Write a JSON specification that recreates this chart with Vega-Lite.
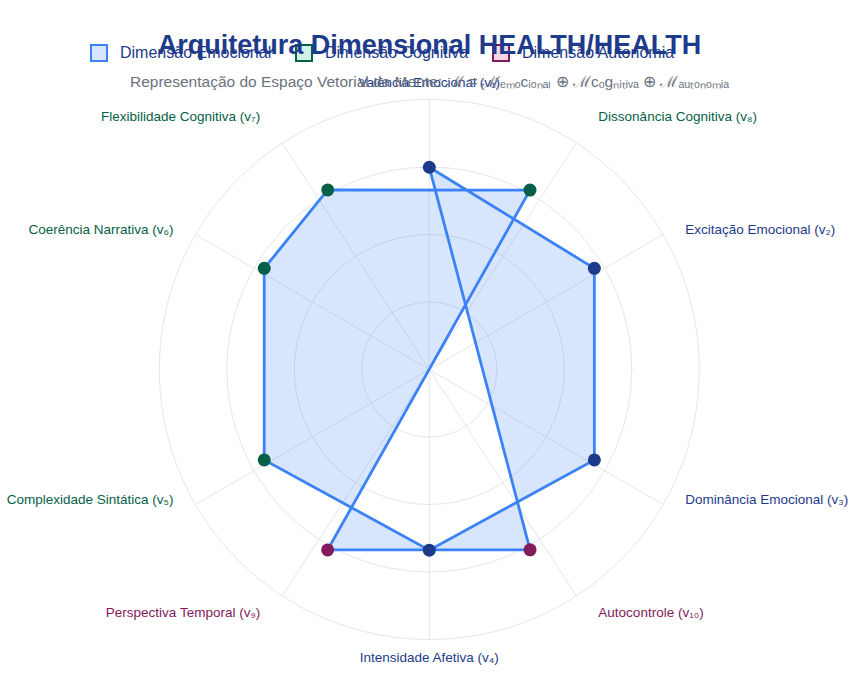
{
  "$schema": "https://vega.github.io/schema/vega-lite/v6.json",
  "width": 865,
  "height": 691,
  "autosize": "none",
  "padding": 0,
  "background": "white",
  "config": {"view": {"stroke": null}, "font": "Liberation Sans"},
  "title": {
    "text": "Arquitetura Dimensional HEALTH/HEALTH",
    "subtitle": "Representação do Espaço Vetorial da Mente: ℳ = ℳₑₘₒcᵢₒₙₐₗ ⊕ ℳcₒgₙᵢₜᵢᵥₐ ⊕ ℳₐᵤₜₒₙₒₘᵢₐ",
    "anchor": "middle",
    "frame": "group",
    "offset": -91,
    "dx": -3,
    "font": "Liberation Sans",
    "fontSize": 27,
    "fontWeight": "bold",
    "color": "#1e3a8a",
    "subtitleFont": "Liberation Sans",
    "subtitleFontSize": 15.5,
    "subtitleColor": "#6b7280",
    "subtitlePadding": 15
  },
  "datasets": {
    "pontos": [
      {"dim": "Valência Emocional (v₁)", "ordem": 1, "r": 0.749, "theta": 0, "g": "Dimensão Emocional"},
      {"dim": "Excitação Emocional (v₂)", "ordem": 2, "r": 0.717, "theta": 58.5, "g": "Dimensão Emocional"},
      {"dim": "Dominância Emocional (v₃)", "ordem": 3, "r": 0.697, "theta": 118.7, "g": "Dimensão Emocional"},
      {"dim": "Intensidade Afetiva (v₄)", "ordem": 4, "r": 0.669, "theta": 180, "g": "Dimensão Emocional"},
      {"dim": "Complexidade Sintática (v₅)", "ordem": 5, "r": 0.697, "theta": 241.3, "g": "Dimensão Cognitiva"},
      {"dim": "Coerência Narrativa (v₆)", "ordem": 6, "r": 0.717, "theta": 301.5, "g": "Dimensão Cognitiva"},
      {"dim": "Flexibilidade Cognitiva (v₇)", "ordem": 7, "r": 0.764, "theta": 330.5, "g": "Dimensão Cognitiva"},
      {"dim": "Dissonância Cognitiva (v₈)", "ordem": 8, "r": 0.762, "theta": 29.3, "g": "Dimensão Cognitiva"},
      {"dim": "Perspectiva Temporal (v₉)", "ordem": 9, "r": 0.767, "theta": 209.4, "g": "Dimensão Autonomia"},
      {"dim": "Autocontrole (v₁₀)", "ordem": 10, "r": 0.765, "theta": 150.8, "g": "Dimensão Autonomia"}
    ],
    "eixos": [
      {"label": "Valência Emocional (v₁)", "theta": 0, "g": "Dimensão Emocional"},
      {"label": "Dissonância Cognitiva (v₈)", "theta": 33, "g": "Dimensão Cognitiva"},
      {"label": "Excitação Emocional (v₂)", "theta": 60, "g": "Dimensão Emocional"},
      {"label": "Dominância Emocional (v₃)", "theta": 120, "g": "Dimensão Emocional"},
      {"label": "Autocontrole (v₁₀)", "theta": 147, "g": "Dimensão Autonomia"},
      {"label": "Intensidade Afetiva (v₄)", "theta": 180, "g": "Dimensão Emocional"},
      {"label": "Perspectiva Temporal (v₉)", "theta": 213, "g": "Dimensão Autonomia"},
      {"label": "Complexidade Sintática (v₅)", "theta": 240, "g": "Dimensão Cognitiva"},
      {"label": "Coerência Narrativa (v₆)", "theta": 300, "g": "Dimensão Cognitiva"},
      {"label": "Flexibilidade Cognitiva (v₇)", "theta": 327, "g": "Dimensão Cognitiva"}
    ],
    "aneis": [{"r": 0.25, "c": 0}, {"r": 0.5, "c": 0}, {"r": 0.75, "c": 0}, {"r": 1.0, "c": 0}],
    "grupos": [
      {"g": "Dimensão Emocional", "c": 0},
      {"g": "Dimensão Cognitiva", "c": 0},
      {"g": "Dimensão Autonomia", "c": 0}
    ]
  },
  "layer": [
    {
      "data": {"name": "aneis"},
      "mark": {"type": "point", "shape": "circle", "filled": false, "stroke": "#e5e6ea", "strokeWidth": 1, "opacity": 1},
      "encoding": {
        "x": {"field": "c", "type": "quantitative", "axis": null, "scale": {"domain": [-1.59, 1.6137], "nice": false, "zero": false}},
        "y": {"field": "c", "type": "quantitative", "axis": null, "scale": {"domain": [-1.1907, 1.3685], "nice": false, "zero": false}},
        "size": {"field": "r", "type": "quantitative", "legend": null, "scale": {"type": "pow", "exponent": 2, "domain": [0, 1], "range": [0, 291600]}}
      }
    },
    {
      "data": {"name": "eixos"},
      "transform": [
        {"calculate": "sin(datum.theta * PI / 180)", "as": "lx"},
        {"calculate": "cos(datum.theta * PI / 180)", "as": "ly"},
        {"calculate": "0", "as": "c"}
      ],
      "mark": {"type": "rule", "stroke": "#e5e6ea", "strokeWidth": 1},
      "encoding": {
        "x": {"field": "c", "type": "quantitative", "axis": null, "scale": {"domain": [-1.59, 1.6137], "nice": false, "zero": false}},
        "y": {"field": "c", "type": "quantitative", "axis": null, "scale": {"domain": [-1.1907, 1.3685], "nice": false, "zero": false}},
        "x2": {"field": "lx"},
        "y2": {"field": "ly"}
      }
    },
    {
      "data": {"name": "pontos"},
      "transform": [
        {"calculate": "datum.r * sin(datum.theta * PI / 180)", "as": "px"},
        {"calculate": "datum.r * cos(datum.theta * PI / 180)", "as": "py"}
      ],
      "mark": {"type": "line", "interpolate": "linear-closed", "stroke": "#3b82f6", "strokeWidth": 2.8, "fill": "#3b82f6", "fillOpacity": 0.2},
      "encoding": {
        "x": {"field": "px", "type": "quantitative", "axis": null, "scale": {"domain": [-1.59, 1.6137], "nice": false, "zero": false}},
        "y": {"field": "py", "type": "quantitative", "axis": null, "scale": {"domain": [-1.1907, 1.3685], "nice": false, "zero": false}},
        "order": {"field": "ordem", "type": "quantitative"}
      }
    },
    {
      "data": {"name": "pontos"},
      "transform": [
        {"calculate": "datum.r * sin(datum.theta * PI / 180)", "as": "px"},
        {"calculate": "datum.r * cos(datum.theta * PI / 180)", "as": "py"}
      ],
      "mark": {"type": "point", "shape": "circle", "filled": true, "size": 169, "opacity": 1},
      "encoding": {
        "x": {"field": "px", "type": "quantitative", "axis": null, "scale": {"domain": [-1.59, 1.6137], "nice": false, "zero": false}},
        "y": {"field": "py", "type": "quantitative", "axis": null, "scale": {"domain": [-1.1907, 1.3685], "nice": false, "zero": false}},
        "color": {"field": "g", "type": "nominal", "legend": null, "scale": {"range": ["#831a5c", "#065f46", "#1e3a8a"]}}
      }
    },
    {
      "data": {"name": "eixos"},
      "transform": [
        {"calculate": "sin(datum.theta * PI / 180)", "as": "lx"},
        {"calculate": "cos(datum.theta * PI / 180)", "as": "ly"},
        {"filter": "abs(datum.lx) < 0.1"},
        {"calculate": "datum.ly > 0 ? datum.ly + 0.061 : datum.ly - 0.0685", "as": "ly2"}
      ],
      "mark": {"type": "text", "align": "center", "baseline": "middle", "fontSize": 13.5, "font": "Liberation Sans"},
      "encoding": {
        "x": {"field": "lx", "type": "quantitative", "axis": null, "scale": {"domain": [-1.59, 1.6137], "nice": false, "zero": false}},
        "y": {"field": "ly2", "type": "quantitative", "axis": null, "scale": {"domain": [-1.1907, 1.3685], "nice": false, "zero": false}},
        "text": {"field": "label", "type": "nominal"},
        "color": {"field": "g", "type": "nominal", "legend": null, "scale": {"range": ["#831a5c", "#065f46", "#1e3a8a"]}}
      }
    },
    {
      "data": {"name": "eixos"},
      "transform": [
        {"calculate": "sin(datum.theta * PI / 180)", "as": "lx"},
        {"calculate": "cos(datum.theta * PI / 180)", "as": "ly"},
        {"filter": "datum.lx >= 0.1"},
        {"calculate": "datum.ly + (datum.ly > 0.7 ? 0.0967 : datum.ly < -0.7 ? -0.0633 : 0.0155)", "as": "ly2"}
      ],
      "mark": {"type": "text", "align": "left", "baseline": "middle", "dx": 22, "fontSize": 13.5, "font": "Liberation Sans"},
      "encoding": {
        "x": {"field": "lx", "type": "quantitative", "axis": null, "scale": {"domain": [-1.59, 1.6137], "nice": false, "zero": false}},
        "y": {"field": "ly2", "type": "quantitative", "axis": null, "scale": {"domain": [-1.1907, 1.3685], "nice": false, "zero": false}},
        "text": {"field": "label", "type": "nominal"},
        "color": {"field": "g", "type": "nominal", "legend": null, "scale": {"range": ["#831a5c", "#065f46", "#1e3a8a"]}}
      }
    },
    {
      "data": {"name": "eixos"},
      "transform": [
        {"calculate": "sin(datum.theta * PI / 180)", "as": "lx"},
        {"calculate": "cos(datum.theta * PI / 180)", "as": "ly"},
        {"filter": "datum.lx <= -0.1"},
        {"calculate": "datum.ly + (datum.ly > 0.7 ? 0.0967 : datum.ly < -0.7 ? -0.0633 : 0.0155)", "as": "ly2"}
      ],
      "mark": {"type": "text", "align": "right", "baseline": "middle", "dx": -22, "fontSize": 13.5, "font": "Liberation Sans"},
      "encoding": {
        "x": {"field": "lx", "type": "quantitative", "axis": null, "scale": {"domain": [-1.59, 1.6137], "nice": false, "zero": false}},
        "y": {"field": "ly2", "type": "quantitative", "axis": null, "scale": {"domain": [-1.1907, 1.3685], "nice": false, "zero": false}},
        "text": {"field": "label", "type": "nominal"},
        "color": {"field": "g", "type": "nominal", "legend": null, "scale": {"range": ["#831a5c", "#065f46", "#1e3a8a"]}}
      }
    },
    {
      "data": {"name": "grupos"},
      "mark": {"type": "point", "shape": "square", "filled": true, "size": 0, "strokeWidth": 2},
      "encoding": {
        "x": {"field": "c", "type": "quantitative", "axis": null, "scale": {"domain": [-1.59, 1.6137], "nice": false, "zero": false}},
        "y": {"field": "c", "type": "quantitative", "axis": null, "scale": {"domain": [-1.1907, 1.3685], "nice": false, "zero": false}},
        "fill": {"field": "g", "type": "nominal",
          "scale": {"domain": ["Dimensão Emocional", "Dimensão Cognitiva", "Dimensão Autonomia"], "range": ["#d8e6fd", "#cff1e6", "#f6d5e6"]},
          "legend": {
            "orient": "none", "legendX": 90, "legendY": 44, "direction": "horizontal", "title": null,
            "symbolType": "square", "symbolSize": 256, "symbolStrokeWidth": 2, "symbolOpacity": 1,
            "labelFontSize": 16, "labelFont": "Liberation Sans", "labelOffset": 12, "columnPadding": 20, "labelLimit": 400,
            "labelColor": "#1e3a8a",
            "encode": {"labels": {"fill": {"condition": [{"test": "datum.value === 'Dimensão Cognitiva'", "value": "#065f46"}, {"test": "datum.value === 'Dimensão Autonomia'", "value": "#831a5c"}], "value": "#1e3a8a"}}}
          }
        },
        "stroke": {"field": "g", "type": "nominal",
          "scale": {"domain": ["Dimensão Emocional", "Dimensão Cognitiva", "Dimensão Autonomia"], "range": ["#3b82f6", "#065f46", "#831a5c"]}
        }
      }
    }
  ]
}
